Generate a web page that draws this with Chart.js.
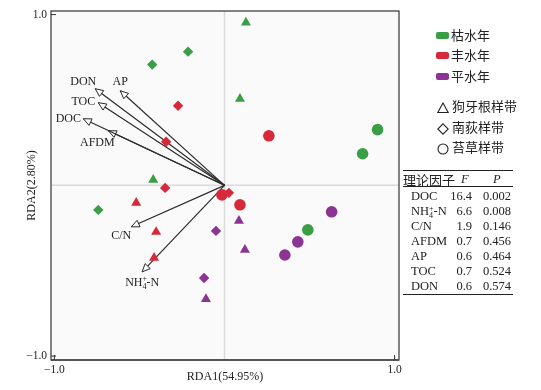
<!DOCTYPE html>
<html>
<head>
<meta charset="utf-8">
<script src="https://cdn.jsdelivr.net/npm/chart.js@4.4.1/dist/chart.umd.min.js"></script>
<style>
  body { margin: 0; background: #fff; }
  #wrap { position: relative; width: 541px; height: 390px; }
  #wrap canvas { position: absolute; left: 0; top: 0; }
  .leg { position: absolute; font-family: "Noto Sans CJK SC"; font-size: 13px; color: #222; line-height: 16px; white-space: nowrap; }
  .sw { position: absolute; width: 13px; height: 7px; border-radius: 2px; }
  .sym { position: absolute; }
  .rule { position: absolute; left: 403px; width: 110px; background: #222; }
  .cell { position: absolute; font-family: "Liberation Serif"; font-size: 12.5px; color: #222; line-height: 15px; white-space: nowrap; }
  .hd { font-family: "Noto Sans CJK SC"; font-size: 13px; }
  .it { font-style: italic; font-family: "Liberation Serif"; }
  .ss { display: inline-block; vertical-align: -3px; font-size: 8px; line-height: 7px; }
  .ss span { display: block; }
</style>
</head>
<body>
<div id="wrap">
  <canvas id="rdaChart" width="541" height="390"></canvas>
</div>
<script>
// ---- data ----
// sample scores (RDA1, RDA2), grouped by year type and vegetation belt
const dryTriX = [0.126, 0.091, -0.419];
const dryTriY = [0.953, 0.507, 0.032];
const dryDiaX = [-0.214, -0.425, -0.742];
const dryDiaY = [0.783, 0.707, -0.144];
const dryCirX = [0.900, 0.812, 0.490];
const dryCirY = [0.326, 0.185, -0.261];

const wetTriX = [-0.519, -0.402, -0.414];
const wetTriY = [-0.103, -0.273, -0.425];
const wetDiaX = [-0.273, -0.343, -0.349, 0.026];
const wetDiaY = [0.466, 0.255, -0.015, -0.044];
const wetCirX = [0.261, -0.015, 0.091];
const wetCirY = [0.290, -0.056, -0.114];

const midTriX = [0.085, 0.120, -0.109];
const midTriY = [-0.208, -0.378, -0.666];
const midDiaX = [-0.050, -0.120];
const midDiaY = [-0.267, -0.543];
const midCirX = [0.630, 0.431, 0.355];
const midCirY = [-0.155, -0.331, -0.408];

// environmental factor arrows
const factorNames = ["DON", "AP", "TOC", "DOC", "AFDM", "C/N", "NH4+-N"];
const factorX = [-0.760, -0.613, -0.742, -0.830, -0.683, -0.548, -0.484];
const factorY = [0.566, 0.554, 0.484, 0.390, 0.320, -0.243, -0.507];

// table of explanatory factors
const tableNames = ["DOC", "NH4+-N", "C/N", "AFDM", "AP", "TOC", "DON"];
const tableF = ["16.4", "6.6", "1.9", "0.7", "0.6", "0.7", "0.6"];
const tableP = ["0.002", "0.008", "0.146", "0.456", "0.464", "0.524", "0.574"];

const yearNames = ["枯水年", "丰水年", "平水年"];
const beltNames = ["狗牙根样带", "南荻样带", "苔草样带"];
const tickValues = [-1, 1];

// ---- styles ----
const GREEN = "#3a9e44";
const RED = "#d62a3a";
const PURPLE = "#8b3494";
const yearColors = [GREEN, RED, PURPLE];

function pts(xs, ys) {
  return xs.map(function (v, i) { return { x: v, y: ys[i] }; });
}

function pointSet(xs, ys, color, style, r) {
  return {
    data: pts(xs, ys),
    backgroundColor: color,
    borderWidth: 0,
    pointStyle: style,
    pointRadius: r,
    showLine: false
  };
}

const datasets = [
  pointSet(dryTriX, dryTriY, GREEN, "triangle", 5.8),
  pointSet(dryDiaX, dryDiaY, GREEN, "rectRot", 5.2),
  pointSet(dryCirX, dryCirY, GREEN, "circle", 5.8),
  pointSet(wetTriX, wetTriY, RED, "triangle", 5.8),
  pointSet(wetDiaX, wetDiaY, RED, "rectRot", 5.2),
  pointSet(wetCirX, wetCirY, RED, "circle", 5.8),
  pointSet(midTriX, midTriY, PURPLE, "triangle", 5.8),
  pointSet(midDiaX, midDiaY, PURPLE, "rectRot", 5.2),
  pointSet(midCirX, midCirY, PURPLE, "circle", 5.8)
];

// arrows last so they are painted beneath the points
factorNames.forEach(function (name, i) {
  datasets.push({
    isArrow: true,
    label: name,
    data: [{ x: 0, y: 0 }, { x: factorX[i], y: factorY[i] }],
    showLine: true,
    borderColor: "#2b2b2b",
    borderWidth: 1.2,
    pointRadius: 0
  });
});

// label placement relative to arrow tip (pixels)
const labelOffsets = {
  "DON": [-12, -7],
  "AP": [0, -9],
  "TOC": [-15, -1],
  "DOC": [-15, 0],
  "AFDM": [-11, 12],
  "C/N": [-10, 9],
  "NH4+-N": [0, 11]
};

function drawNH4(ctx, cx, cy) {
  const big = "12px 'Liberation Serif'";
  const small = "8px 'Liberation Serif'";
  ctx.font = big;
  const wNH = ctx.measureText("NH").width;
  const wN = ctx.measureText("-N").width;
  ctx.font = small;
  const wS = ctx.measureText("4").width;
  const total = wNH + wS + wN;
  let x = cx - total / 2;
  ctx.textAlign = "left";
  ctx.font = big;
  ctx.fillText("NH", x, cy);
  x += wNH;
  ctx.font = small;
  ctx.fillText("+", x, cy - 4);
  ctx.fillText("4", x, cy + 4);
  x += wS;
  ctx.font = big;
  ctx.fillText("-N", x, cy);
}

const rdaPlugin = {
  id: "rda",
  beforeDatasetsDraw: function (chart) {
    const ctx = chart.ctx;
    const a = chart.chartArea;
    const xs = chart.scales.x;
    const ys = chart.scales.y;
    ctx.save();
    ctx.fillStyle = "#fafafa";
    ctx.fillRect(a.left, a.top, a.right - a.left, a.bottom - a.top);
    const x0 = xs.getPixelForValue(0);
    const y0 = ys.getPixelForValue(0);
    ctx.strokeStyle = "#dadada";
    ctx.lineWidth = 1.5;
    ctx.beginPath();
    ctx.moveTo(x0, a.top);
    ctx.lineTo(x0, a.bottom);
    ctx.moveTo(a.left, y0);
    ctx.lineTo(a.right, y0);
    ctx.stroke();
    ctx.restore();
  },
  afterDatasetDraw: function (chart, args) {
    const ds = chart.data.datasets[args.index];
    if (!ds.isArrow) return;
    const ctx = chart.ctx;
    const p0 = args.meta.data[0];
    const p1 = args.meta.data[1];
    const ang = Math.atan2(p1.y - p0.y, p1.x - p0.x);
    const L = 8, W = 3.6;
    const c = Math.cos(ang), s = Math.sin(ang);
    ctx.save();
    ctx.beginPath();
    ctx.moveTo(p1.x, p1.y);
    ctx.lineTo(p1.x - L * c + W * s, p1.y - L * s - W * c);
    ctx.lineTo(p1.x - L * c - W * s, p1.y - L * s + W * c);
    ctx.closePath();
    ctx.fillStyle = "#fafafa";
    ctx.fill();
    ctx.strokeStyle = "#2b2b2b";
    ctx.lineWidth = 1;
    ctx.stroke();

    const off = labelOffsets[ds.label];
    const lx = p1.x + off[0];
    const ly = p1.y + off[1];
    ctx.fillStyle = "#222";
    ctx.textBaseline = "middle";
    if (ds.label === "NH4+-N") {
      drawNH4(ctx, lx, ly);
    } else {
      ctx.font = "12px 'Liberation Serif'";
      ctx.textAlign = "center";
      ctx.fillText(ds.label, lx, ly);
    }
    ctx.restore();
  },
  afterDraw: function (chart) {
    const ctx = chart.ctx;
    const a = chart.chartArea;
    const xs = chart.scales.x;
    const ys = chart.scales.y;
    ctx.save();
    ctx.strokeStyle = "#333";
    ctx.lineWidth = 1.2;
    ctx.strokeRect(a.left, a.top, a.right - a.left, a.bottom - a.top);
    ctx.strokeStyle = "#555";
    ctx.lineWidth = 2;
    ctx.beginPath();
    ctx.moveTo(a.left, a.bottom);
    ctx.lineTo(a.right, a.bottom);
    ctx.stroke();
    // inward tick marks
    ctx.strokeStyle = "#333";
    ctx.lineWidth = 1;
    ctx.beginPath();
    tickValues.forEach(function (v) {
      const px = xs.getPixelForValue(v);
      ctx.moveTo(px, a.bottom);
      ctx.lineTo(px, a.bottom - 5);
      const py = ys.getPixelForValue(v);
      ctx.moveTo(a.left, py);
      ctx.lineTo(a.left + 5, py);
    });
    ctx.stroke();
    ctx.restore();
  }
};

function fmtTick(v) {
  return (v < 0 ? "\u2212" : "") + Math.abs(v).toFixed(1);
}

function onlyTicks(scale) {
  scale.ticks = tickValues.map(function (v) { return { value: v }; });
}

const axisFont = { family: "Liberation Serif", size: 11.5 };
const titleFont = { family: "Liberation Serif", size: 12 };

new Chart(document.getElementById("rdaChart"), {
  type: "scatter",
  data: { datasets: datasets },
  plugins: [rdaPlugin],
  options: {
    responsive: false,
    animation: false,
    layout: { padding: { top: 11, right: 142, left: 0, bottom: 0 } },
    plugins: {
      legend: { display: false },
      tooltip: { enabled: false }
    },
    scales: {
      x: {
        min: -1.02,
        max: 1.026,
        afterBuildTicks: onlyTicks,
        afterFit: function (s) { s.height = 30; },
        grid: { display: false, drawTicks: false },
        border: { display: false },
        ticks: { padding: 3, color: "#222", font: axisFont, callback: fmtTick, autoSkip: false, maxRotation: 0 },
        title: { display: true, text: "RDA1(54.95%)", color: "#222", font: titleFont, padding: { top: 0, bottom: 6 } }
      },
      y: {
        min: -1.023,
        max: 1.021,
        afterBuildTicks: onlyTicks,
        afterFit: function (s) { s.width = 51; },
        grid: { display: false, drawTicks: false },
        border: { display: false },
        ticks: { padding: 4, color: "#222", font: axisFont, callback: fmtTick, autoSkip: false },
        title: { display: true, text: "RDA2(2.80%)", color: "#222", font: titleFont, padding: { top: 25, bottom: 0 } }
      }
    }
  }
});

// ---- legend (year colours and belt shapes) ----
const wrap = document.getElementById("wrap");
const legendRowsY = [35, 55, 76];
yearNames.forEach(function (name, i) {
  const sw = document.createElement("div");
  sw.className = "sw";
  sw.style.left = "436px";
  sw.style.top = (legendRowsY[i] - 3.5) + "px";
  sw.style.background = yearColors[i];
  wrap.appendChild(sw);
  const t = document.createElement("div");
  t.className = "leg";
  t.style.left = "451px";
  t.style.top = (legendRowsY[i] - 8) + "px";
  t.textContent = name;
  wrap.appendChild(t);
});

const shapeRowsY = [106, 127, 147];
const shapeSvgs = [
  '<svg width="12" height="12"><polygon points="6,1 11.2,10.5 0.8,10.5" fill="none" stroke="#222" stroke-width="1.1"/></svg>',
  '<svg width="12" height="12"><polygon points="6,0.8 11.2,6 6,11.2 0.8,6" fill="none" stroke="#222" stroke-width="1.1"/></svg>',
  '<svg width="12" height="12"><circle cx="6" cy="6" r="5" fill="none" stroke="#222" stroke-width="1.1"/></svg>'
];
beltNames.forEach(function (name, i) {
  const s = document.createElement("div");
  s.className = "sym";
  s.style.left = "437px";
  s.style.top = (shapeRowsY[i] - 6) + "px";
  s.innerHTML = shapeSvgs[i];
  wrap.appendChild(s);
  const t = document.createElement("div");
  t.className = "leg";
  t.style.left = "452px";
  t.style.top = (shapeRowsY[i] - 8) + "px";
  t.textContent = name;
  wrap.appendChild(t);
});

// ---- factor table ----
function addRule(top, h) {
  const r = document.createElement("div");
  r.className = "rule";
  r.style.top = top + "px";
  r.style.height = h + "px";
  wrap.appendChild(r);
}
function addCell(html, left, right, top, extra) {
  const c = document.createElement("div");
  c.className = "cell" + (extra ? " " + extra : "");
  if (left !== null) c.style.left = left + "px";
  if (right !== null) c.style.right = (541 - right) + "px";
  c.style.top = top + "px";
  c.innerHTML = html;
  wrap.appendChild(c);
}
function nameHtml(n) {
  if (n === "NH4+-N") return 'NH<span class="ss"><span>+</span><span>4</span></span>-N';
  return n;
}

addRule(169.5, 1.5);
addRule(186, 1);
addRule(293.5, 1.5);
addCell("理论因子", 403, null, 171.5, "hd");
addCell("F", 461, null, 171.5, "it");
addCell("P", 493, null, 171.5, "it");
tableNames.forEach(function (n, i) {
  const top = 189 + i * 15;
  addCell(nameHtml(n), 411, null, top);
  addCell(tableF[i], null, 472, top);
  addCell(tableP[i], null, 511, top);
});
</script>
</body>
</html>
